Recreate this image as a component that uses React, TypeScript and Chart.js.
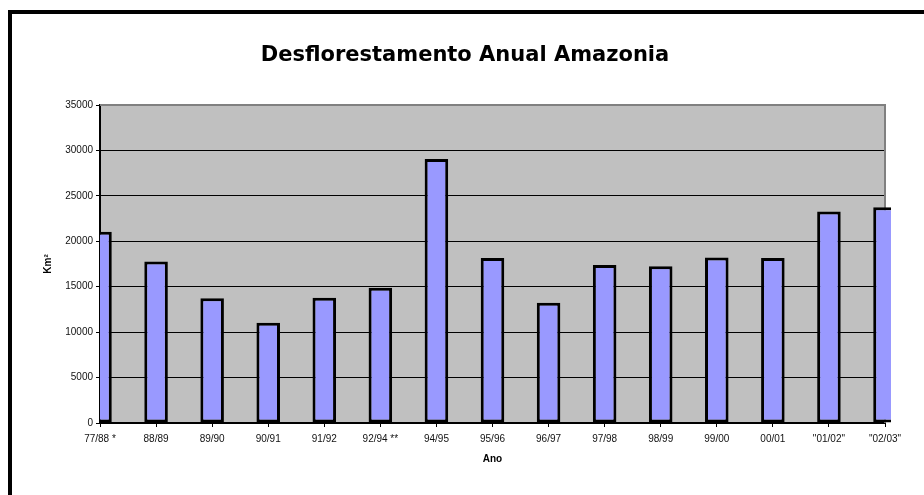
import { useEffect, useRef } from "react";
import { Chart, registerables } from "chart.js";

Chart.register(...registerables);

const categories = [
  "77/88 *",
  "88/89",
  "89/90",
  "90/91",
  "91/92",
  "92/94 **",
  "94/95",
  "95/96",
  "96/97",
  "97/98",
  "98/99",
  "99/00",
  "00/01",
  "\"01/02\"",
  "\"02/03\"",
];
const deforestation = [
  21050, 17770, 13730, 11030, 13786, 14896, 29059, 18161, 13227, 17383, 17259,
  18226, 18165, 23266, 23750,
];
const yMin = 0;
const yMax = 35000;
const yStep = 5000;
const chartTitle = "Desflorestamento Anual Amazonia";
const xTitle = "Ano";
const yTitle = "Km²";

const plotFrame = {
  id: "plotFrame",
  beforeDraw(chart: any) {
    const { ctx, chartArea: a } = chart;
    ctx.save();
    ctx.fillStyle = "#C0C0C0";
    ctx.fillRect(a.left, a.top, a.right - a.left, a.bottom - a.top);
    ctx.restore();
  },
  beforeDatasetsDraw(chart: any) {
    const { ctx, chartArea: a } = chart;
    ctx.save();
    ctx.strokeStyle = "#808080";
    ctx.lineWidth = 2;
    ctx.beginPath();
    ctx.moveTo(a.left, a.top);
    ctx.lineTo(a.right, a.top);
    ctx.lineTo(a.right, a.bottom);
    ctx.stroke();
    ctx.restore();
  },
  afterDraw(chart: any) {
    const { ctx } = chart;
    ctx.save();
    ctx.fillStyle = "#000";
    ctx.font = "bold 21px 'DejaVu Sans'";
    ctx.textAlign = "center";
    ctx.textBaseline = "alphabetic";
    ctx.fillText(chartTitle, 465, 61);
    ctx.restore();
  },
};

export default function App() {
  const ref = useRef<HTMLCanvasElement>(null);
  useEffect(() => {
    if (!ref.current) return;
    const chart = new Chart(ref.current, {
      type: "bar",
      data: {
        labels: categories,
        datasets: [
          {
            data: deforestation,
            backgroundColor: "#9999FF",
            borderColor: "#000000",
            borderWidth: 3,
            borderSkipped: false,
            barPercentage: 0.42,
            categoryPercentage: 1,
            clip: { left: 0, top: 0, right: 6, bottom: 0 } as any,
          },
        ],
      },
      plugins: [plotFrame],
      options: {
        animation: false,
        responsive: false,
        maintainAspectRatio: false,
        layout: { padding: { left: 0, top: 105, right: 39, bottom: 30 } },
        plugins: {
          legend: { display: false },
          title: { display: false },
          tooltip: { enabled: false },
        },
        scales: {
          x: {
            type: "category",
            offset: false,
            afterFit(scale: any) {
              scale.height = 42;
            },
            grid: {
              offset: false,
              drawOnChartArea: false,
              drawTicks: true,
              tickLength: 4,
              tickColor: "#000",
            },
            border: { display: true, color: "#000", width: 2 },
            ticks: {
              color: "#111",
              font: { family: "'Liberation Sans', Arial", size: 10 },
              padding: 6,
              maxRotation: 0,
              autoSkip: false,
            },
            title: {
              display: true,
              text: xTitle,
              color: "#000",
              font: { family: "'Liberation Sans', Arial", size: 10, weight: "bold" },
              padding: { top: 0, bottom: 0 },
            },
          },
          y: {
            min: yMin,
            max: yMax,
            afterFit(scale: any) {
              scale.width = 100;
            },
            grid: {
              color: "#000",
              lineWidth: 1,
              drawTicks: true,
              tickLength: 4,
              tickColor: "#000",
            },
            border: { display: true, color: "#000", width: 2 },
            ticks: {
              stepSize: yStep,
              color: "#111",
              font: { family: "'Liberation Sans', Arial", size: 10 },
              padding: 3,
              callback: (v: any) => String(v),
            },
            title: {
              display: true,
              text: yTitle,
              color: "#000",
              font: { family: "'Liberation Sans', Arial", size: 10, weight: "bold" },
              padding: { top: 42, bottom: 0 },
            },
          },
        },
      },
    });
    return () => chart.destroy();
  }, []);

  return (
    <div
      style={{
        position: "fixed",
        left: 0,
        top: 0,
        width: 924,
        height: 495,
        overflow: "hidden",
        background: "#fff",
      }}
    >
      <div
        style={{
          position: "absolute",
          left: 8,
          top: 10,
          width: 1000,
          height: 1000,
          border: "4px solid #000",
          boxSizing: "border-box",
        }}
      />
      <canvas
        ref={ref}
        width={924}
        height={495}
        style={{ position: "absolute", left: 0, top: 0, width: 924, height: 495, display: "block" }}
      />
    </div>
  );
}
